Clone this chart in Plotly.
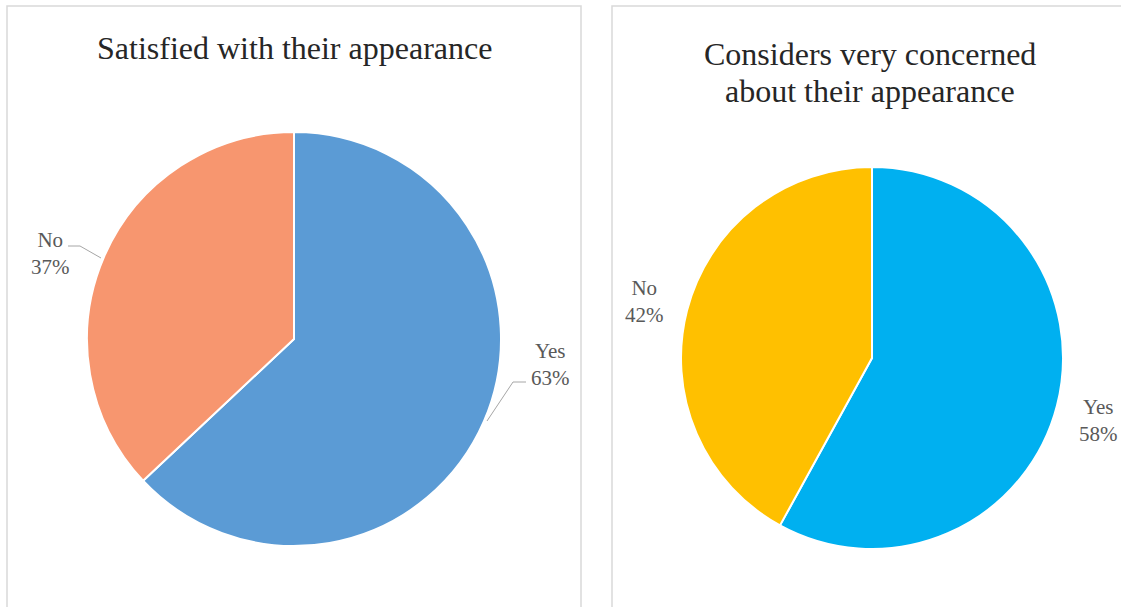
import plotly.graph_objects as go

W, H = 1121, 607

# Survey answers
labels = ["Yes", "No"]
satisfied_values = [63, 37]
concerned_values = [58, 42]

satisfied_colors = ["#5B9BD5", "#F7966F"]
concerned_colors = ["#00B0F0", "#FFC000"]

titles = ["Satisfied with their appearance",
          "Considers very concerned<br>about their appearance"]


def px(x):
    return x / W


def py(y):
    return 1 - y / H


def pct_text(label, values, i):
    total = sum(values)
    return f"{label}<br>{round(100 * values[i] / total)}%"


fig = go.Figure()

# pie centres / radii in pixels
left_c, left_r = (294, 339), 207
right_c, right_r = (872, 358), 191

for vals, cols, (cx, cy), r in [
    (satisfied_values, satisfied_colors, left_c, left_r),
    (concerned_values, concerned_colors, right_c, right_r),
]:
    fig.add_trace(go.Pie(
        labels=labels, values=vals, sort=False, direction="clockwise",
        rotation=0,
        marker=dict(colors=cols, line=dict(color="white", width=2)),
        textinfo="none", hoverinfo="label+percent", showlegend=False,
        domain=dict(x=[px(cx - r), px(cx + r)], y=[py(cy + r), py(cy - r)]),
    ))

# panel frames
for x0, x1 in [(7, 581), (612, 1125)]:
    fig.add_shape(type="rect", xref="paper", yref="paper",
                  x0=px(x0), x1=px(x1), y0=py(612), y1=py(6),
                  line=dict(color="#D9D9D9", width=1.5), fillcolor="rgba(0,0,0,0)")

serif = "Liberation Serif"
title_font = dict(family=serif, size=32, color="#262626")
label_font = dict(family=serif, size=21, color="#595959")

# titles (second one split over two lines)
title_lines = [(titles[0], 294, 48)]
for k, line in enumerate(titles[1].split("<br>")):
    title_lines.append((line, 870, 54 + 37 * k))
for text, x, y in title_lines:
    fig.add_annotation(x=px(x), y=py(y), xref="paper", yref="paper",
                       text=text, showarrow=False, font=title_font,
                       xanchor="center", yanchor="middle")

# data labels
label_pos = [
    (satisfied_values, 1, 50, 254, "center"),
    (satisfied_values, 0, 550, 364, "center"),
    (concerned_values, 1, 644, 301, "center"),
    (concerned_values, 0, 1077, 420, "left"),
]
for vals, i, x, y, anchor in label_pos:
    fig.add_annotation(x=px(x), y=py(y), xref="paper", yref="paper",
                       text=pct_text(labels[i], vals, i), showarrow=False,
                       font=label_font, xanchor=anchor, yanchor="middle",
                       align="center")

# leader lines
for pts in [[(68, 246), (80, 246), (101, 258)],
            [(526, 382), (513, 382), (487, 421)]]:
    path = "M " + " L ".join(f"{px(x)},{py(y)}" for x, y in pts)
    fig.add_shape(type="path", xref="paper", yref="paper", path=path,
                  line=dict(color="#A6A6A6", width=1))

fig.update_layout(width=W, height=H, margin=dict(l=0, r=0, t=0, b=0),
                  paper_bgcolor="white", plot_bgcolor="white")

fig.write_html("out.html")
